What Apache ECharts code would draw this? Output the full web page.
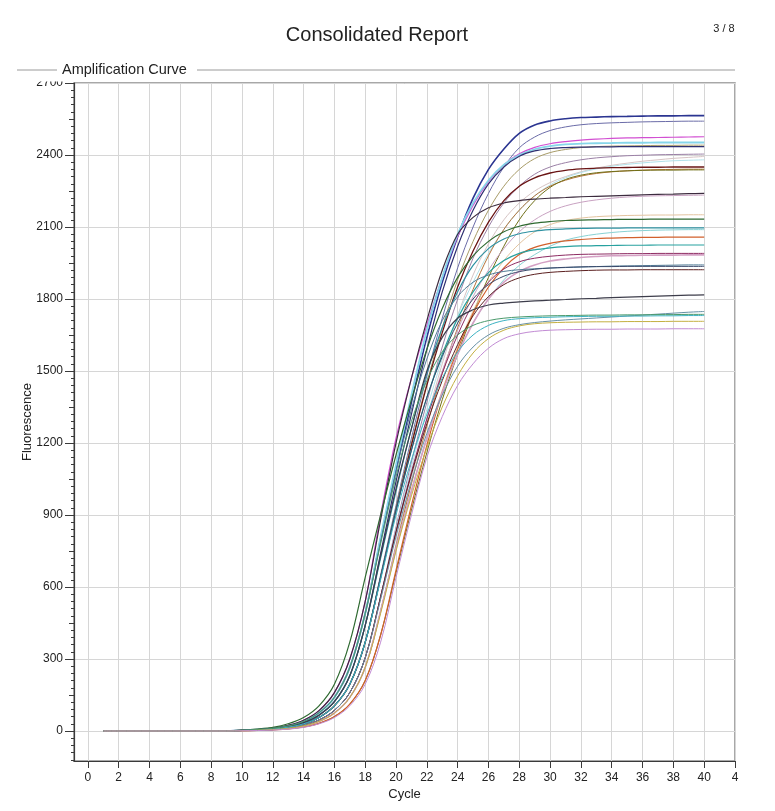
<!DOCTYPE html>
<html>
<head>
<meta charset="utf-8">
<title>Consolidated Report</title>
<script src="https://cdn.jsdelivr.net/npm/echarts@6/dist/echarts.min.js"></script>
<style>
  html, body { margin: 0; padding: 0; background: #fff; }
  #chart { width: 775px; height: 811px; }
</style>
</head>
<body>
<div id="chart"></div>
<script>
// cycles read along the x axis
var cycles = [1,2,3,4,5,6,7,8,9,10,11,12,13,14,15,16,17,18,19,20,21,22,23,24,25,26,27,28,29,30,31,32,33,34,35,36,37,38,39,40];

// axis ticks
var xTickValues = [0,2,4,6,8,10,12,14,16,18,20,22,24,26,28,30,32,34,36,38,40,42];
var yTickValues = [0,300,600,900,1200,1500,1800,2100,2400,2700];

// fluorescence per well, cycles 1..40
var W01 = [0,0,0,0,0,0,0,0,0,3,6,11,21,40,76,140,265,490,800,1090,1370,1640,1870,2060,2220,2340,2425,2490,2525,2542,2551,2556,2558,2560,2561,2562,2563,2563,2564,2564];
var W02 = [0,0,0,0,0,0,0,0,0,2,4,8,16,30,56,105,195,370,650,940,1220,1480,1720,1930,2100,2240,2350,2430,2475,2502,2517,2526,2531,2534,2536,2538,2539,2540,2541,2541];
var W03 = [0,0,0,0,0,0,0,0,0,3,6,12,24,45,85,160,300,540,900,1220,1470,1690,1890,2060,2190,2290,2360,2405,2432,2447,2456,2462,2466,2469,2471,2472,2473,2474,2475,2476];
var W04 = [0,0,0,0,0,0,0,0,0,3,6,11,21,40,76,140,265,490,810,1110,1400,1670,1890,2070,2200,2295,2360,2400,2424,2437,2444,2447,2449,2450,2451,2451,2452,2452,2452,2452];
var W05 = [0,0,0,0,0,0,0,0,0,2,4,8,16,30,56,105,195,370,640,930,1200,1450,1680,1880,2040,2170,2270,2340,2385,2410,2423,2431,2435,2437,2438,2439,2440,2440,2441,2441];
var W06 = [0,0,0,0,0,0,0,0,0,2,5,10,18,35,66,122,230,440,740,1040,1320,1590,1830,2020,2170,2280,2350,2395,2417,2427,2431,2433,2434,2434,2435,2435,2435,2435,2435,2435];
var W07 = [0,0,0,0,0,0,0,0,0,2,3,6,13,25,46,86,160,305,560,850,1120,1370,1600,1800,1970,2100,2200,2270,2320,2350,2368,2380,2388,2393,2397,2399,2401,2402,2403,2404];
var W08 = [0,0,0,0,0,0,0,0,0,1,3,6,11,21,40,75,140,265,500,780,1050,1300,1530,1730,1900,2030,2130,2200,2250,2285,2310,2330,2345,2357,2366,2374,2380,2386,2390,2394];
var W09 = [0,0,0,0,0,0,0,0,0,2,3,6,13,25,46,86,160,305,560,840,1100,1340,1550,1730,1870,1990,2090,2170,2230,2275,2305,2327,2342,2353,2361,2367,2372,2376,2378,2380];
var W10 = [0,0,0,0,0,0,0,0,0,2,4,8,16,30,56,105,195,370,640,920,1190,1440,1660,1850,2000,2120,2210,2270,2305,2325,2336,2342,2345,2347,2348,2349,2349,2350,2350,2350];
var W11 = [0,0,0,0,0,0,0,0,0,1,3,6,11,21,40,75,140,265,500,770,1030,1270,1490,1680,1840,1980,2090,2170,2230,2270,2295,2312,2323,2330,2334,2337,2339,2340,2341,2341];
var W12 = [0,0,0,0,0,0,0,0,0,1,2,5,9,17,32,60,112,210,400,660,920,1160,1380,1570,1740,1890,2020,2130,2210,2265,2298,2316,2326,2331,2334,2336,2337,2337,2338,2338];
var W13 = [0,0,0,0,0,0,0,0,0,3,6,12,24,45,85,160,300,540,880,1200,1470,1710,1920,2070,2140,2180,2200,2210,2216,2220,2223,2226,2228,2230,2232,2234,2236,2237,2239,2240];
var W14 = [0,0,0,0,0,0,0,0,0,2,3,6,13,25,46,86,160,305,550,820,1070,1300,1500,1670,1810,1920,2010,2080,2130,2165,2188,2203,2213,2220,2225,2228,2230,2231,2232,2233];
var W15 = [0,0,0,0,0,0,0,0,0,1,3,6,11,21,40,75,140,265,500,760,1000,1220,1420,1600,1750,1870,1960,2030,2080,2110,2127,2137,2143,2146,2148,2149,2150,2150,2151,2151];
var W16 = [0,0,0,0,0,0,0,0,0,4,8,15,30,56,105,195,370,640,900,1150,1380,1590,1760,1890,1980,2040,2080,2103,2116,2123,2127,2129,2130,2131,2132,2132,2133,2133,2133,2133];
var W17 = [0,0,0,0,0,0,0,0,0,2,5,10,18,35,66,122,230,440,720,1000,1260,1490,1680,1830,1940,2010,2050,2072,2083,2089,2092,2094,2095,2095,2096,2096,2096,2096,2096,2096];
var W18 = [0,0,0,0,0,0,0,0,0,1,3,6,11,21,40,75,140,265,500,760,1000,1220,1410,1570,1700,1800,1880,1940,1985,2020,2045,2060,2070,2077,2082,2085,2087,2088,2089,2089];
var W19 = [0,0,0,0,0,0,0,0,0,1,2,5,9,17,32,60,112,210,400,670,940,1190,1410,1590,1740,1850,1930,1985,2015,2032,2042,2048,2052,2054,2056,2057,2057,2058,2058,2058];
var W20 = [0,0,0,0,0,0,0,0,0,2,4,8,16,30,56,105,195,370,640,920,1170,1390,1570,1720,1830,1910,1960,1990,2005,2013,2018,2021,2022,2023,2024,2024,2025,2025,2025,2025];
var W21 = [0,0,0,0,0,0,0,0,0,2,3,6,13,25,46,86,160,305,560,830,1080,1300,1490,1650,1780,1870,1925,1955,1970,1978,1983,1986,1987,1988,1989,1989,1990,1990,1990,1990];
var W22 = [0,0,0,0,0,0,0,0,0,1,3,6,11,21,40,75,140,265,500,760,1000,1220,1410,1570,1700,1800,1870,1915,1942,1958,1967,1973,1977,1980,1981,1982,1983,1983,1984,1984];
var W23 = [0,0,0,0,0,0,0,0,0,3,6,11,21,40,76,140,265,490,790,1080,1340,1550,1710,1810,1870,1900,1915,1922,1926,1929,1931,1933,1935,1937,1938,1939,1940,1941,1942,1942];
var W24 = [0,0,0,0,0,0,0,0,0,2,4,8,16,30,56,105,195,370,640,920,1170,1390,1560,1700,1800,1860,1895,1914,1924,1929,1932,1934,1935,1935,1936,1936,1936,1936,1936,1936];
var W25 = [0,0,0,0,0,0,0,0,0,2,3,6,13,25,46,86,160,305,560,830,1070,1280,1460,1610,1730,1810,1860,1888,1903,1911,1915,1918,1920,1921,1921,1922,1922,1922,1922,1922];
var W26 = [0,0,0,0,0,0,0,0,0,2,5,10,18,35,66,122,230,440,730,1010,1260,1500,1640,1720,1755,1775,1783,1788,1792,1795,1798,1801,1803,1806,1808,1810,1812,1814,1816,1817];
var W27 = [0,0,0,0,0,0,0,0,0,2,3,6,13,25,46,86,160,305,550,810,1040,1240,1400,1520,1600,1650,1678,1693,1702,1708,1713,1717,1721,1725,1729,1733,1737,1741,1745,1748];
var W28 = [0,0,0,0,0,0,0,0,0,2,4,8,16,30,56,105,195,370,630,900,1130,1320,1470,1580,1650,1690,1710,1718,1722,1724,1726,1727,1728,1728,1729,1729,1730,1730,1731,1731];
var W29 = [0,0,0,0,0,0,0,0,0,3,6,11,21,40,76,140,265,490,780,1060,1290,1460,1580,1650,1690,1710,1720,1725,1728,1730,1731,1732,1733,1733,1734,1734,1735,1735,1736,1736];
var W30 = [0,0,0,0,0,0,0,0,0,1,3,6,11,21,40,75,140,265,490,750,980,1180,1350,1480,1575,1635,1670,1688,1697,1701,1703,1704,1705,1705,1706,1706,1706,1707,1707,1707];
var W31 = [0,0,0,0,0,0,0,0,0,1,2,4,8,15,30,56,105,195,370,640,900,1140,1310,1440,1530,1595,1635,1655,1665,1670,1672,1673,1674,1674,1675,1675,1675,1676,1676,1676];

var wells = [W01,W02,W03,W04,W05,W06,W07,W08,W09,W10,W11,W12,W13,W14,W15,W16,W17,W18,W19,W20,W21,W22,W23,W24,W25,W26,W27,W28,W29,W30,W31];
var wellColors = ['#2b3591','#6b6ca8','#d24fd2','#86d6ea','#a89c68','#2e2f70','#9b80a6','#d6c4c4','#b2e2ea','#6a1414',
                  '#b5733a','#707018','#3c2b3e','#c9a2c2','#e3c4a0','#2f6a31','#2f92a2','#88d2d4','#d2602c','#27a19f',
                  '#8d2b62','#d4a0c4','#4f7a95','#39496b','#5b1f1f','#3d3d4b','#6690a5','#3db3c3','#4a9a6c','#c4b042','#c28bd4'];
var wellWidths = [1.6,1,1.2,1.8,1,1.2,1,1,1,1.3,1,1,1.2,1,1,1.2,1.2,1,1.2,1.2,1,1.6,1,1,1,1.2,1,1,1,1,1];

// minor ticks on the fluorescence axis: every 30, a slightly longer one half way
var yMinorTicks = [], yMidTicks = [];
for (var v = -120; v <= 2700; v += 30) {
  if (v % 300 === 0) continue;
  if (v % 150 === 0) yMidTicks.push(v); else yMinorTicks.push(v);
}

var FONT = '"Liberation Sans", Arial, sans-serif';
var myChart = echarts.init(document.getElementById('chart'), null, {renderer: 'canvas'});

var series = wells.map(function (vals, i) {
  return {
    type: 'line',
    name: 'W' + (i + 1),
    data: cycles.map(function (c, k) { return [c, vals[k]]; }),
    symbol: 'none',
    smooth: 0.35,
    silent: true,
    lineStyle: { color: wellColors[i], width: wellWidths[i] },
    emphasis: { disabled: true }
  };
});

var yBase = { type: 'value', min: -125, max: 2700, position: 'left', gridIndex: 0 };

var option = {
  animation: false,
  backgroundColor: '#fff',
  grid: { left: 74, right: 40, top: 83, bottom: 50, show: true, borderColor: '#8c8c8c', borderWidth: 1.5, backgroundColor: 'transparent' },
  xAxis: {
    type: 'value', min: -0.9, max: 42,
    axisLine: { onZero: false, lineStyle: { color: '#3a3a3a', width: 1.2 } },
    axisTick: { customValues: xTickValues, length: 7, lineStyle: { color: '#3a3a3a' } },
    axisLabel: {
      customValues: xTickValues, margin: 11, color: '#222', fontSize: 12, fontFamily: FONT,
      formatter: function (val) { return val === 42 ? '4' : String(val); }
    },
    splitLine: { show: true, lineStyle: { color: '#d6d6d6', width: 1 } },
    name: 'Cycle', nameLocation: 'middle', nameGap: 27, nameMoveOverlap: false,
    nameTextStyle: { color: '#222', fontSize: 13, fontFamily: FONT }
  },
  yAxis: [
    Object.assign({}, yBase, {
      axisLine: { show: true, onZero: false, lineStyle: { color: '#3a3a3a', width: 1.2 } },
      axisTick: { customValues: yTickValues, length: 9, lineStyle: { color: '#3a3a3a' } },
      axisLabel: {
        customValues: yTickValues, margin: 11, color: '#222', fontSize: 12, fontFamily: FONT,
        formatter: function (val) { return String(val); }
      },
      splitLine: { show: true, lineStyle: { color: '#d6d6d6', width: 1 } },
      name: 'Fluorescence', nameLocation: 'middle', nameGap: 40, nameMoveOverlap: false,
      nameTextStyle: { color: '#222', fontSize: 13, fontFamily: FONT }
    }),
    Object.assign({}, yBase, {
      axisLine: { show: false, onZero: false },
      axisTick: { show: true, customValues: yMinorTicks, length: 3, lineStyle: { color: '#3a3a3a' } },
      axisLabel: { show: false },
      splitLine: { show: false }
    }),
    Object.assign({}, yBase, {
      axisLine: { show: false, onZero: false },
      axisTick: { show: true, customValues: yMidTicks, length: 5, lineStyle: { color: '#3a3a3a' } },
      axisLabel: { show: false },
      splitLine: { show: false }
    })
  ],
  graphic: [
    { type: 'text', x: 377, y: 35, z: 100,
      style: { text: 'Consolidated Report', font: '20px ' + FONT, fill: '#222', align: 'center', verticalAlign: 'middle', textAlign: 'center', textVerticalAlign: 'middle' } },
    { type: 'text', x: 724, y: 29, z: 100,
      style: { text: '3 / 8', font: '11px ' + FONT, fill: '#222', align: 'center', verticalAlign: 'middle', textAlign: 'center', textVerticalAlign: 'middle' } },
    // covers the top of the 2700 label like the report's header band does
    { type: 'rect', z: 90, shape: { x: 20, y: 72, width: 52, height: 9.5 }, style: { fill: '#fff' } },
    { type: 'line', z: 100, shape: { x1: 17, y1: 70, x2: 57, y2: 70 }, style: { stroke: '#9a9a9a', lineWidth: 1 } },
    { type: 'line', z: 100, shape: { x1: 197, y1: 70, x2: 735, y2: 70 }, style: { stroke: '#9a9a9a', lineWidth: 1 } },
    { type: 'text', x: 62, y: 70, z: 100,
      style: { text: 'Amplification Curve', font: '14.5px ' + FONT, fill: '#222', align: 'left', verticalAlign: 'middle', textAlign: 'left', textVerticalAlign: 'middle' } }
  ],
  series: series
};
myChart.setOption(option);
</script>
</body>
</html>
